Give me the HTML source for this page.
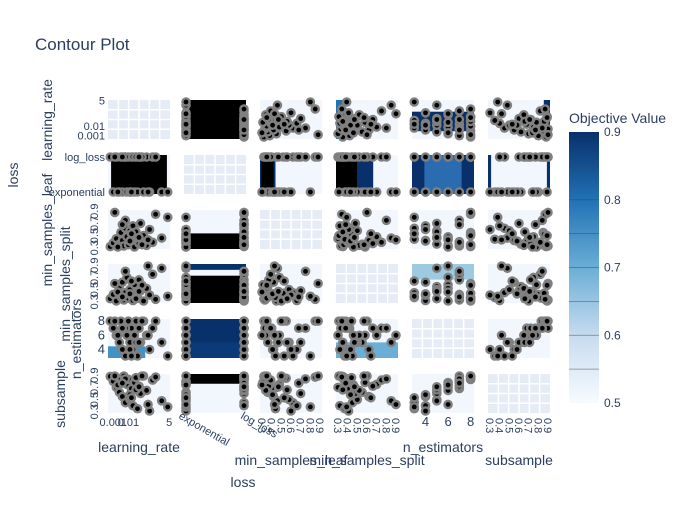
<!DOCTYPE html>
<html><head><meta charset="utf-8">
<style>
body{margin:0;background:#fff;font-family:"Liberation Sans",sans-serif;}
svg text{font-family:"Liberation Sans",sans-serif;fill:#2a3f5f;}
</style></head>
<body>
<svg id="chart" width="700" height="500">
<text x="35" y="50" font-size="17">Contour Plot</text>
</svg>
<script>
const params = ["learning_rate","loss","min_samples_leaf","min_samples_split","n_estimators","subsample"];
// trial values: lr (log10), loss (0=exponential,1=log_loss), msl, mss, n_est, subsample
const lrVals   = [-3.2,-3.0,-2.8,-2.6,-2.5,-2.4,-2.3,-2.2,-2.1,-2.0,-1.9,-1.8,-1.7,-1.6,-1.5,-1.4,-1.3,-1.2,-1.0,-0.8,-0.6,-0.4,-0.2,0.2,0.6,-2.9,-2.7,-2.2,-1.9,-1.5,-1.1,-0.7,-2.4,-1.8,-1.3];
const lossVals = [1,0,1,0,1,0,1,1,0,1,0,1,1,0,1,0,1,1,0,1,0,1,1,0,0,1,0,1,0,1,1,0,1,0,1];
const mslVals  = [0.32,0.38,0.45,0.36,0.55,0.42,0.33,0.62,0.48,0.35,0.58,0.40,0.66,0.31,0.52,0.44,0.37,0.70,0.50,0.34,0.60,0.39,0.85,0.46,0.80,0.88,0.30,0.75,0.41,0.56,0.35,0.43,0.68,0.53,0.47];
const mssVals  = [0.35,0.42,0.30,0.55,0.38,0.62,0.33,0.45,0.70,0.36,0.50,0.40,0.32,0.58,0.44,0.37,0.66,0.48,0.31,0.52,0.41,0.75,0.34,0.85,0.39,0.60,0.46,0.80,0.43,0.35,0.57,0.90,0.38,0.64,0.47];
const nEstVals = [8,7,6,5,8,4,7,3,6,8,5,7,4,6,8,3,7,5,8,6,4,7,8,5,3,8,6,7,4,5,8,6,7,3,5];
const subVals  = [0.88,0.80,0.70,0.62,0.85,0.55,0.90,0.45,0.75,0.83,0.50,0.68,0.40,0.78,0.86,0.35,0.72,0.60,0.89,0.65,0.30,0.82,0.87,0.48,0.38,0.90,0.74,0.84,0.58,0.66,0.89,0.42,0.77,0.53,0.71];
const cbTicks = [0.5,0.6,0.7,0.8,0.9];
const lrTickVals = [-3,-2,0.7];
const lrTickText = ["0.001","0.01","5"];
const ranges = [[-3.35,0.75],[0,1],[0.28,0.92],[0.28,0.92],[2.8,8.3],[0.28,0.92]];
const series = [lrVals,lossVals,mslVals,mssVals,nEstVals,subVals];

const svg = document.getElementById('chart');
const NS = "http://www.w3.org/2000/svg";
const colX = [108,184,260,336,412,488], W = 62;
const rowY = [100,155,210,264,319,374], H = 39;
function mk(tag, attrs, parent){const e=document.createElementNS(NS,tag);for(const k in attrs)e.setAttribute(k,attrs[k]);(parent||svg).appendChild(e);return e;}
function sx(c,v){const r=ranges[c];return colX[c]+(v-r[0])/(r[1]-r[0])*W;}
function sy(rw,v){const r=ranges[rw];return rowY[rw]+H-(v-r[0])/(r[1]-r[0])*H;}

const defs = mk('defs',{});
const g = mk('linearGradient',{id:'cb',x1:0,y1:1,x2:0,y2:0},defs);
mk('stop',{offset:'0','stop-color':'#f7fbff'},g);
mk('stop',{offset:'0.25','stop-color':'#c6dbef'},g);
mk('stop',{offset:'0.5','stop-color':'#6baed6'},g);
mk('stop',{offset:'0.75','stop-color':'#2171b5'},g);
mk('stop',{offset:'1','stop-color':'#08306b'},g);

const patches = {
 "0,1":[[0,0,1,1,'#000']],
 "1,0":[[0.05,0,0.9,1,'#000']],
 "1,2":[[0,0,0.25,1,'#08306b'],[0.02,0,0.2,1,'#000']],
 "1,3":[[0,0,0.35,1,'#000'],[0.35,0,0.25,1,'#08306b']],
 "1,4":[[0,0,1,1,'#2b6cb0'],[0,0,0.2,1,'#08306b'],[0.8,0,0.2,1,'#08306b']],
 "1,5":[[0,0,0.05,1,'#08306b'],[0.95,0,0.05,1,'#08306b']],
 "2,1":[[0,0.6,1,0.4,'#000']],
 "3,1":[[0,0.3,1,0.7,'#000'],[0,0,1,0.15,'#08306b']],
 "4,1":[[0,0,1,1,'#08306b'],[0,0.6,1,0.4,'#0b3a78']],
 "5,1":[[0,0,1,0.25,'#000']],
 "0,3":[[0,0,0.15,1,'#2171b5']],
 "0,4":[[0,0.3,1,0.5,'#08306b']],
 "4,0":[[0,0.7,0.6,0.3,'#4292c6']],
 "3,0":[[0,0.8,0.5,0.2,'#2171b5']],
 "3,4":[[0,0,1,0.4,'#9ecae1']],
 "0,5":[[0.9,0,0.1,1,'#08306b']],
 "4,3":[[0,0.6,1,0.4,'#6baed6']]
};

for(let r=0;r<6;r++){for(let c=0;c<6;c++){
  const x=colX[c], y=rowY[r];
  if(r===c){
    const bg=mk('rect',{x:x,y:y,width:W,height:H,fill:'#e5ecf6'});
    
    
    for(let i=1;i<6;i++){mk('line',{x1:x+i*W/6,x2:x+i*W/6,y1:y,y2:y+H,stroke:'#fff','stroke-width':1.5});}
    for(let i=1;i<4;i++){mk('line',{x1:x,x2:x+W,y1:y+i*H/4,y2:y+i*H/4,stroke:'#fff','stroke-width':1.5});}
    continue;
  }
  const bg=mk('rect',{x:x,y:y,width:W,height:H,fill:'#f2f7fd'});
  
  
  (patches[r+','+c]||[]).forEach(p=>{mk('rect',{x:x+p[0]*W,y:y+p[1]*H,width:p[2]*W,height:p[3]*H,fill:p[4]});});
  const xs=series[c], ys=series[r];
  for(let i=0;i<xs.length;i++){
    let px=sx(c,xs[i]), py=sy(r,ys[i]);
    px=Math.max(x+2,Math.min(x+W-2,px)); py=Math.max(y+2,Math.min(y+H-2,py));
    const o=mk('circle',{cx:px,cy:py,r:4.8,fill:'#808080'});
    
    
    mk('circle',{cx:px,cy:py,r:2.4,fill:'#000'});
  }
}}

function ytxt(t,x,y,s){const e=mk('text',{x:x,y:y,'font-size':s||11,'text-anchor':'end'});e.textContent=t;return e;}
lrTickVals.forEach((v,i)=>{const t=ytxt(lrTickText[i],105,sy(0,v)+4);});
ytxt('log_loss',105,sy(1,1)+6,11);ytxt('exponential',105,sy(1,0)+2,11);
[2,3,5].forEach(r=>{[0.3,0.5,0.7,0.9].forEach(v=>{const e=mk('text',{x:0,y:0,'font-size':11,'text-anchor':'middle',transform:`translate(98,${sy(r,v)}) rotate(-90)`});e.textContent=v.toFixed(1);});});
[4,6,8].forEach(v=>{ytxt(String(v),105,sy(4,v)+4,13);});
const by=426;
lrTickVals.forEach((v,i)=>{const e=mk('text',{x:sx(0,v),y:by,'font-size':11,'text-anchor':'middle'});e.textContent=lrTickText[i];});
[['exponential',0],['log_loss',1]].forEach(a=>{const e=mk('text',{x:0,y:0,'font-size':11,transform:`translate(${sx(1,a[1])-6},${by-8}) rotate(30)`});e.textContent=a[0];});
[2,3,5].forEach(c=>{[0.3,0.4,0.5,0.6,0.7,0.8,0.9].forEach(v=>{const e=mk('text',{x:0,y:0,'font-size':11,transform:`translate(${sx(c,v)-4},${by-8}) rotate(90)`});e.textContent=v.toFixed(1);});});
[4,6,8].forEach(v=>{const e=mk('text',{x:sx(4,v),y:by,'font-size':13,'text-anchor':'middle'});e.textContent=String(v);});

function title(t,x,y,rot,name){const e=mk('text',{x:0,y:0,'font-size':14,'text-anchor':'middle',transform:`translate(${x},${y}) rotate(${rot})`});e.textContent=t;}
title('learning_rate',139,452,0,'x-title-learning-rate');
title('loss',243,487,0,'x-title-loss');
title('min_samples_leaf',291,465,0,'x-title-min-samples-leaf');
title('min_samples_split',367,465,0,'x-title-min-samples-split');
title('n_estimators',443,452,0,'x-title-n-estimators');
title('subsample',519,465,0,'x-title-subsample');
title('learning_rate',52,120,-90,'y-title-learning-rate');
title('loss',18,175,-90,'y-title-loss');
title('min_samples_leaf',52,230,-90,'y-title-min-samples-leaf');
title('min_samples_split',70,284,-90,'y-title-min-samples-split');
title('n_estimators',81,339,-90,'y-title-n-estimators');
title('subsample',65,394,-90,'y-title-subsample');

const cb=mk('rect',{x:569,y:132,width:30,height:271,fill:'url(#cb)'});


const ct=mk('text',{x:569,y:123,'font-size':14});ct.textContent='Objective Value';


function cby(v){return 403-(v-0.5)/0.4*271;}
[0.55,0.6,0.65,0.7,0.75,0.8,0.85].forEach(v=>{mk('line',{x1:569,x2:599,y1:cby(v),y2:cby(v),stroke:'#444','stroke-width':0.8,opacity:0.6});});
cbTicks.forEach(v=>{const e=mk('text',{x:604,y:cby(v)+4,'font-size':12});e.textContent=v.toFixed(1);
  
  });
</script>
</body></html>
